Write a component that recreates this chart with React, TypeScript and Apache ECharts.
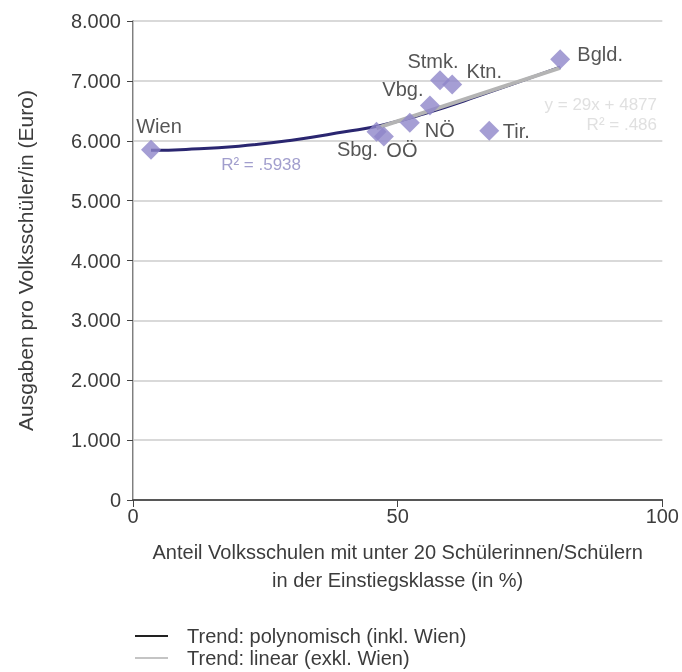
import React, { useEffect, useRef } from "react";
import * as echarts from "echarts";

const regions = ["Wien", "Sbg.", "OÖ", "NÖ", "Vbg.", "Stmk.", "Ktn.", "Tir.", "Bgld."];
const shareUnder20 = [3.4, 46.0, 47.4, 52.3, 56.1, 58.0, 60.3, 67.3, 80.7];
const spendingPerPupil = [5850, 6150, 6070, 6300, 6590, 7010, 6940, 6165, 7360];
const labelOffsets: [number, number][] = [
  [8, -24], [-19, 17], [18, 13], [30, 7], [-27, -16], [-7, -19], [32, -13], [27, 0], [40, -5],
];

const polyTrendX = [3.4, 10, 20, 30, 40, 47, 55, 65, 80.7];
const polyTrendY = [5840, 5855, 5910, 6010, 6150, 6260, 6450, 6740, 7230];
const linearTrendX = [46, 80.7];
const linearTrendY = [6211, 7217];

const xTicks = { min: 0, max: 100, interval: 50 };
const yTicks = { min: 0, max: 8000, interval: 1000 };

const polyName = "Trend: polynomisch (inkl. Wien)";
const linearName = "Trend: linear (exkl. Wien)";

const FONT = "Liberation Sans";
const TXT = "#3c3c3c";

export default function App() {
  const ref = useRef<HTMLDivElement>(null);
  useEffect(() => {
    if (!ref.current) return;
    const chart = echarts.init(ref.current, undefined, { renderer: "svg" });
    const fmt = (v: number) => String(v).replace(/\B(?=(\d{3})+(?!\d))/g, ".");
    const legendBase = {
      orient: "horizontal",
      left: 135,
      itemWidth: 33,
      itemHeight: 2,
      padding: 0,
      textStyle: { fontSize: 20, lineHeight: 22, color: TXT, fontFamily: FONT, padding: [0, 0, 0, 14] },
    };
    chart.setOption({
      animation: false,
      textStyle: { fontFamily: FONT },
      grid: { left: 133, right: 13, top: 21, bottom: 172 },
      legend: [
        { ...legendBase, top: 625, data: [{ name: polyName, icon: "rect", itemStyle: { color: "#222" } }] },
        { ...legendBase, top: 647, data: [{ name: linearName, icon: "rect", itemStyle: { color: "#c4c4c4" } }] },
      ],
      xAxis: [
        {
          type: "value",
          ...xTicks,
          position: "bottom",
          name: "Anteil Volksschulen mit unter 20 Schülerinnen/Schülern\nin der Einstiegsklasse (in %)",
          nameLocation: "middle",
          nameGap: 38,
          nameTextStyle: { fontSize: 20, color: TXT, lineHeight: 28, fontFamily: FONT },
          axisLine: { lineStyle: { color: "#333", width: 1.5 } },
          axisTick: { length: 7, lineStyle: { color: "#444" } },
          axisLabel: { fontSize: 20, color: TXT, margin: 6 },
          splitLine: { show: false },
        },
        {
          type: "value",
          ...xTicks,
          position: "top",
          axisLine: { show: true, lineStyle: { color: "#555", width: 1.5 } },
          axisTick: { show: false },
          axisLabel: { show: false },
          splitLine: { show: false },
        },
      ],
      yAxis: [
        {
          type: "value",
          ...yTicks,
          position: "left",
          name: "Ausgaben pro Volksschüler/in (Euro)",
          nameLocation: "middle",
          nameGap: 97,
          nameTextStyle: { fontSize: 21, color: TXT, fontFamily: FONT },
          axisLine: { show: true, lineStyle: { color: "#555", width: 1.5 } },
          axisTick: { show: true, length: 6, lineStyle: { color: "#444" } },
          axisLabel: { fontSize: 20, color: TXT, margin: 12, formatter: fmt },
          splitLine: { lineStyle: { color: "#cccccc", width: 1.5 } },
        },
        {
          type: "value",
          ...yTicks,
          position: "right",
          axisLine: { show: true, lineStyle: { color: "#c4c4c4", width: 1 } },
          axisTick: { show: false },
          axisLabel: { show: false },
          splitLine: { show: false },
        },
      ],
      series: [
        {
          name: polyName,
          type: "line",
          smooth: true,
          showSymbol: false,
          color: "#2a2670",
          lineStyle: { color: "#2a2670", width: 3 },
          data: polyTrendX.map((x, i) => [x, polyTrendY[i]]),
          z: 2,
        },
        {
          name: linearName,
          type: "line",
          showSymbol: false,
          color: "#b4b4b4",
          lineStyle: { color: "#b4b4b4", width: 4 },
          data: linearTrendX.map((x, i) => [x, linearTrendY[i]]),
          z: 3,
        },
        {
          name: "Bundesländer",
          type: "scatter",
          symbol: "diamond",
          symbolSize: 20,
          itemStyle: { color: "#8e86c9" },
          z: 4,
          data: regions.map((r, i) => ({
            name: r,
            value: [shareUnder20[i], spendingPerPupil[i]],
            label: {
              show: true,
              position: "inside",
              offset: labelOffsets[i],
              formatter: r,
              fontSize: 20,
              color: "#2a2a2a",
              fontFamily: FONT,
            },
          })),
        },
        {
          name: "annotations",
          type: "scatter",
          symbolSize: 0,
          silent: true,
          z: 5,
          data: [
            {
              value: [24.2, 5600],
              label: { show: true, position: "inside", formatter: "R² = .5938", fontSize: 17, color: "#8a86c0", fontFamily: FONT },
            },
            {
              value: [99, 6600],
              label: { show: true, position: "left", distance: 0, formatter: "y = 29x + 4877", fontSize: 17, color: "#d8d8d8", fontFamily: FONT },
            },
            {
              value: [99, 6270],
              label: { show: true, position: "left", distance: 0, formatter: "R² = .486", fontSize: 17, color: "#d8d8d8", fontFamily: FONT },
            },
          ],
        },
      ],
    });
    return () => chart.dispose();
  }, []);
  return <div ref={ref} style={{ position: "fixed", left: 0, top: 0, width: 682, height: 672 }} />;
}
